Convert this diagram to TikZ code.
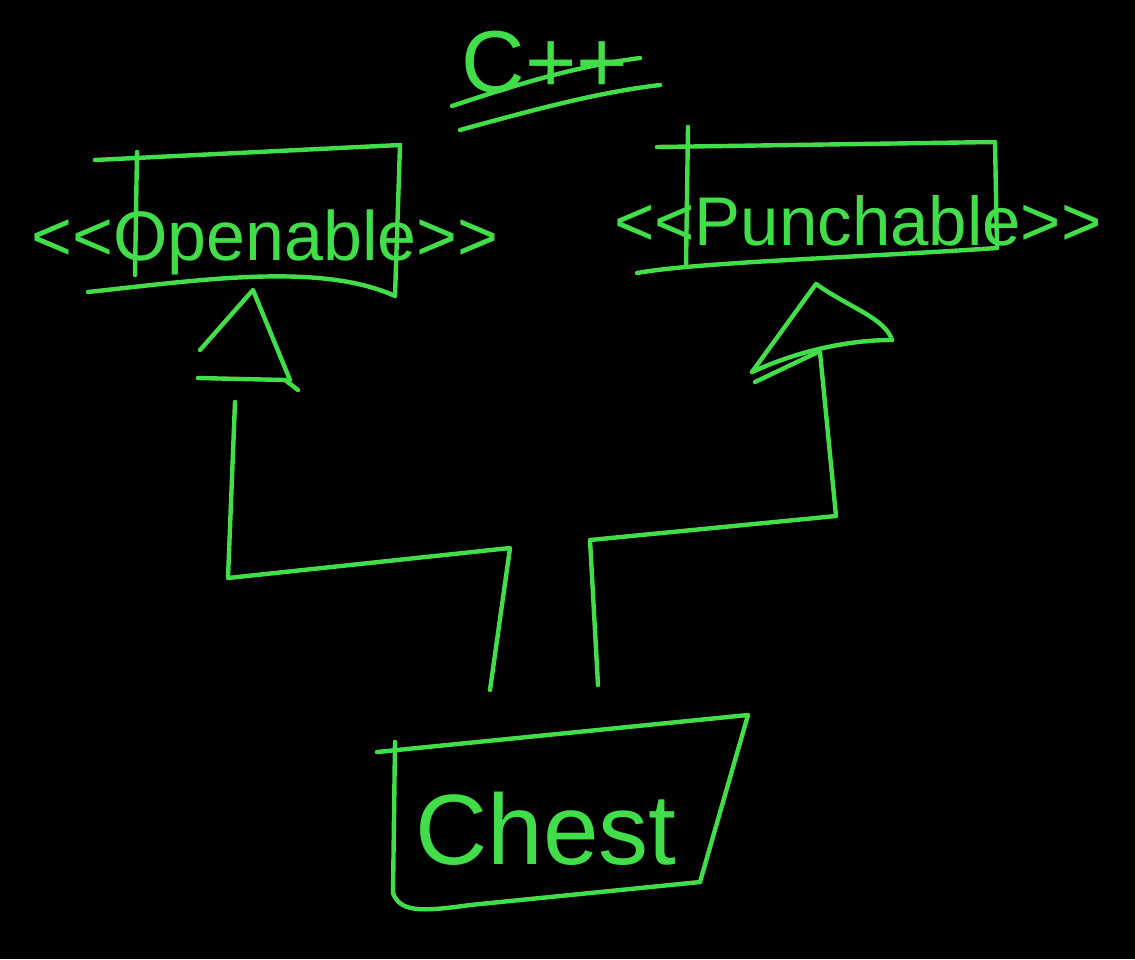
\documentclass[tikz,border=0pt]{standalone}
\usepackage{fontspec}
\setmainfont{Liberation Sans}[Ligatures=NoCommon]
\usetikzlibrary{fit}
\definecolor{chalk}{RGB}{66,222,74}
\tikzset{
  ink/.style={draw=chalk, line width=4.4pt, line cap=round, line join=round},
  label/.style={text=chalk, inner sep=0pt, anchor=base},
  boxfit/.style={inner sep=0pt, draw=none}
}
\begin{document}
\begin{tikzpicture}[x=1pt,y=-1pt]
\fill[black] (0,0) rectangle (1135,959);

% title
\node[label, font=\fontsize{88}{90}\selectfont] (title) at (545,92) {C++};
\draw[ink] (452,106) .. controls (530,80) and (580,66) .. (640,58);
\draw[ink] (460,130) .. controls (540,108) and (600,92) .. (660,85);

% Openable box
\coordinate (o1) at (95,160);
\coordinate (o2) at (400,145);
\coordinate (o3) at (395,296);
\coordinate (o4) at (88,292);
\draw[ink] (o1) -- (o2);
\draw[ink] (137,152) -- (135,275);
\draw[ink] (o2) -- (o3);
\draw[ink] (o4) .. controls (200,280) and (320,262) .. (o3);
\node[boxfit, fit=(o1)(o2)(o3)(o4)] (openbox) {};
\node[label, font=\fontsize{70}{72}\selectfont] (opentext) at (265,260) {<{}<Openable>{}>};

% Punchable box
\coordinate (p1) at (657,147);
\coordinate (p2) at (995,142);
\coordinate (p3) at (997,248);
\coordinate (p4) at (637,273);
\draw[ink] (p1) -- (p2) -- (p3);
\draw[ink] (688,127) -- (686,267);
\draw[ink] (p4) .. controls (700,262) and (850,258) .. (p3);
\node[boxfit, fit=(p1)(p2)(p3)(p4)] (punchbox) {};
\node[label, font=\fontsize{69}{71}\selectfont] (punchtext) at (858,245) {<{}<Punchable>{}>};

% Chest box
\coordinate (c1) at (377,752);
\coordinate (c2) at (748,715);
\coordinate (c3) at (700,882);
\coordinate (c4) at (395,905);
\draw[ink] (c1) -- (c2) -- (c3);
\draw[ink] (395,742) -- (393,893);
\draw[ink] (393,893) .. controls (400,912) and (420,912) .. (470,905) -- (c3);
\node[boxfit, fit=(c1)(c2)(c3)(c4)] (chestbox) {};
\node[label, font=\fontsize{100}{102}\selectfont] (chesttext) at (546,864) {Chest};

% inheritance triangles
\coordinate (ta1) at (253,290);
\coordinate (tl1) at (198,378);
\coordinate (tr1) at (298,390);
\draw[ink] (200,350) -- (ta1) -- (290,380);
\draw[ink] (tl1) -- (285,380) -- (tr1);

\coordinate (ta2) at (816,284);
\coordinate (tl2) at (752,372);
\coordinate (tr2) at (892,340);
\draw[ink] (tl2) -- (ta2) .. controls (850,308) and (885,318) .. (tr2);
\draw[ink] (tr2) .. controls (850,340) and (800,350) .. (tl2);
\draw[ink] (755,382) -- (818,352);

% connector ports
\coordinate (lbase) at (235,402);
\coordinate (rbase) at (820,352);
\coordinate (lport) at (490,690);
\coordinate (rport) at (598,685);

\draw[ink] (lport) -- (510,548) -- (228,578) -- (lbase);
\draw[ink] (rport) -- (590,540) -- (836,516) -- (rbase);
\end{tikzpicture}
\end{document}
